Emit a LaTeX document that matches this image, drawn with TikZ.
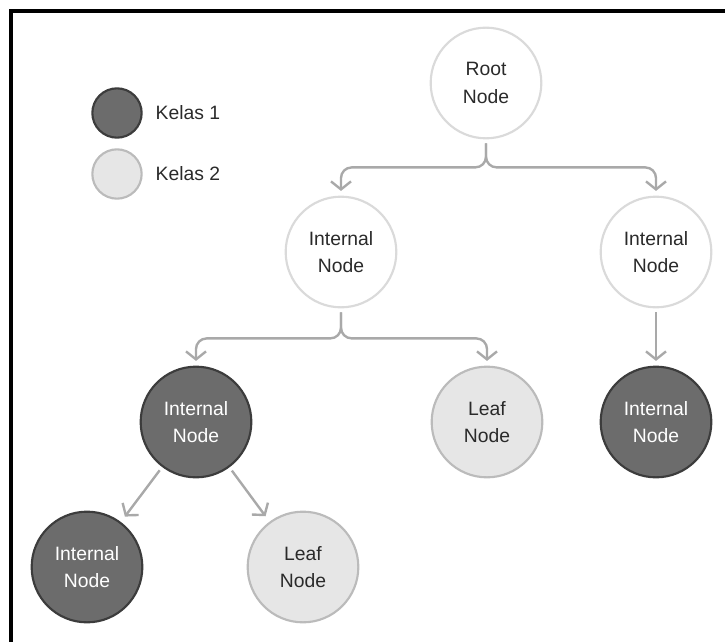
\documentclass[tikz,border=0pt]{standalone}
\usepackage{fontspec}
\setmainfont{Liberation Sans}
\usetikzlibrary{arrows.meta}
\definecolor{darkfill}{HTML}{6C6C6C}
\definecolor{darkline}{HTML}{3C3C3C}
\definecolor{lightfill}{HTML}{E6E6E6}
\definecolor{lightline}{HTML}{BBBBBB}
\definecolor{whiteline}{HTML}{DADADA}
\definecolor{arrgray}{HTML}{A9A9A9}
\definecolor{txt}{HTML}{2A2A2A}
\begin{document}
\begin{tikzpicture}[x=0.75pt,y=-0.75pt,
  every node/.style={font=\fontsize{14.5}{20.5}\selectfont, text=txt},
  tnode/.style={circle, minimum size=83pt, inner sep=0pt, align=center, line width=1.6pt},
  plain/.style={tnode, draw=whiteline, fill=white},
  kelasA/.style={tnode, draw=darkline, fill=darkfill, text=white},
  kelasB/.style={tnode, draw=lightline, fill=lightfill},
  arr/.style={draw=arrgray, line width=1.8pt, -{Straight Barb[length=6pt,width=15pt,line width=1.8pt]}, shorten >=3.5pt}]
\useasboundingbox (0,0) rectangle (725,642);
\draw[line width=2.4pt] (11,642) -- (11,11) -- (725,11);
\node[kelasA, minimum size=37pt] (legA) at (117,113) {};
\node[kelasB, minimum size=37pt] (legB) at (117,174) {};
\node[right] (txtA) at (151,113) {Kelas 1};
\node[right] (txtB) at (151,174) {Kelas 2};
\node[plain] (root) at (486,83) {Root\\Node};
\node[plain] (in1) at (341,252) {Internal\\Node};
\node[plain] (in2) at (656,252) {Internal\\Node};
\node[kelasA] (in3) at (196,422) {Internal\\Node};
\node[kelasB] (leaf1) at (487,422) {Leaf\\Node};
\node[kelasA] (in4) at (656,422) {Internal\\Node};
\node[kelasA] (in5) at (87,567) {Internal\\Node};
\node[kelasB] (leaf2) at (303,567) {Leaf\\Node};
\draw[arr, rounded corners=8pt] (root.south) ++(0,4) -- ++(0,24) -| (in1.north);
\draw[arr, rounded corners=8pt] (root.south) ++(0,4) -- ++(0,24) -| (in2.north);
\draw[arr, rounded corners=8pt] (in1.south) ++(0,4) -- ++(0,26) -| (in3.north);
\draw[arr, rounded corners=8pt] (in1.south) ++(0,4) -- ++(0,26) -| (leaf1.north);
\draw[arr, shorten <=3pt] (in2) -- (in4);
\draw[arr, shorten <=3pt, shorten >=5pt] (in3) -- (in5);
\draw[arr, shorten <=3pt, shorten >=5pt] (in3) -- (leaf2);
\end{tikzpicture}
\end{document}
